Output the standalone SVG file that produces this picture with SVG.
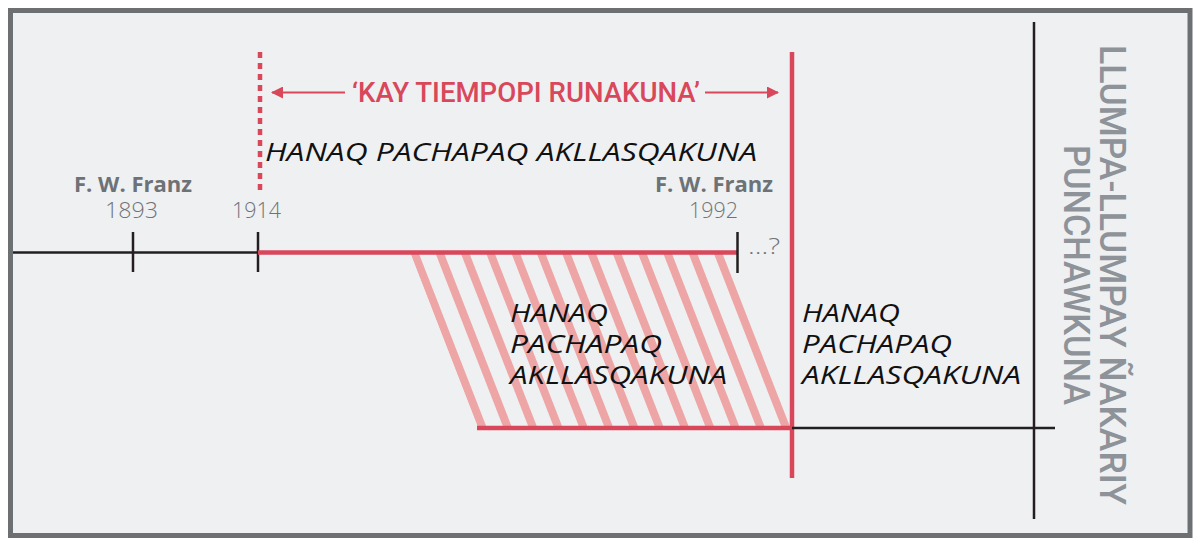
<svg xmlns="http://www.w3.org/2000/svg" width="1200" height="547" viewBox="0 0 1200 547">
  <style>
    .blk { stroke: #231f20; stroke-width: 2.5; fill: none; }
    .red { stroke: #d9475b; stroke-width: 4.5; fill: none; }
    .stripe { stroke: #eea5a5; stroke-width: 8; }
    .ital { font-family: "Open Sans", "DejaVu Sans", sans-serif; font-style: italic; font-weight: 500; font-size: 26px; fill: #111111; }
    .name { font-family: "Open Sans", "DejaVu Sans", sans-serif; font-weight: 700; font-size: 21px; fill: #6d7276; }
    .year { font-family: "Open Sans", "DejaVu Sans", sans-serif; font-weight: 300; font-size: 22px; fill: #6f7478; }
    .title { font-family: "Roboto", "Liberation Sans", sans-serif; font-weight: 500; font-size: 28px; fill: #d9475b; }
    .vert { font-family: "Roboto", "Liberation Sans", sans-serif; font-weight: 500; font-size: 36px; fill: #8e9399; }
  </style>
  <defs>
    <marker id="arr" viewBox="0 0 12 12" refX="11" refY="6" markerWidth="12" markerHeight="12" markerUnits="userSpaceOnUse" orient="auto-start-reverse">
      <path d="M0,0 L12,6 L0,12 Z" fill="#d9475b"/>
    </marker>
    <clipPath id="trap">
      <polygon points="410,252 737,252 792,428 478,428"/>
    </clipPath>
  </defs>

  <rect x="0" y="0" width="1200" height="547" fill="#ffffff"/>
  <rect id="frame" x="10.5" y="10.5" width="1179.5" height="525" fill="#eff0f2" stroke="#6d7072" stroke-width="5"/>

  <g id="hatch" clip-path="url(#trap)">
    <line class="stripe" x1="414" y1="252" x2="482.6" y2="428"/>
    <line class="stripe" x1="439.3" y1="252" x2="507.9" y2="428"/>
    <line class="stripe" x1="464.6" y1="252" x2="533.2" y2="428"/>
    <line class="stripe" x1="489.9" y1="252" x2="558.5" y2="428"/>
    <line class="stripe" x1="515.2" y1="252" x2="583.8" y2="428"/>
    <line class="stripe" x1="540.5" y1="252" x2="609.1" y2="428"/>
    <line class="stripe" x1="565.8" y1="252" x2="634.4" y2="428"/>
    <line class="stripe" x1="591.1" y1="252" x2="659.7" y2="428"/>
    <line class="stripe" x1="616.4" y1="252" x2="685" y2="428"/>
    <line class="stripe" x1="641.7" y1="252" x2="710.3" y2="428"/>
    <line class="stripe" x1="667" y1="252" x2="735.6" y2="428"/>
    <line class="stripe" x1="692.3" y1="252" x2="760.9" y2="428"/>
    <line class="stripe" x1="717.6" y1="252" x2="786.2" y2="428"/>
    <line class="stripe" x1="742.9" y1="252" x2="811.5" y2="428"/>
  </g>

  <g id="connectors">
    <line class="blk" x1="13" y1="252.5" x2="258" y2="252.5"/>
    <line class="blk" x1="133" y1="232" x2="133" y2="272"/>
    <line class="blk" x1="258" y1="232" x2="258" y2="272"/>
    <line class="red" x1="258" y1="252.5" x2="737" y2="252.5"/>
    <line class="blk" x1="737.5" y1="232" x2="737.5" y2="273"/>
    <line class="red" x1="260" y1="52" x2="260" y2="192" stroke-dasharray="6 5" stroke-width="4"/>
    <line class="red" x1="792" y1="52" x2="792" y2="478" stroke-width="4"/>
    <line class="red" x1="477" y1="428" x2="792" y2="428"/>
    <line class="blk" x1="792" y1="428" x2="1055" y2="428"/>
    <line class="blk" x1="1034" y1="22" x2="1034" y2="519"/>
    <line x1="345" y1="92.5" x2="272" y2="92.5" stroke="#d9475b" stroke-width="2" marker-end="url(#arr)"/>
    <line x1="705" y1="92.5" x2="778" y2="92.5" stroke="#d9475b" stroke-width="2" marker-end="url(#arr)"/>
  </g>

  <g id="title-node">
    <text class="title" x="352" y="102" textLength="348" lengthAdjust="spacingAndGlyphs">‘KAY TIEMPOPI RUNAKUNA’</text>
  </g>

  <g id="anointed-top">
    <text class="ital" x="265" y="161" font-size="28" textLength="492" lengthAdjust="spacingAndGlyphs">HANAQ PACHAPAQ AKLLASQAKUNA</text>
  </g>

  <g id="franz-1893">
    <text class="name" x="133" y="192" text-anchor="middle" textLength="118" lengthAdjust="spacingAndGlyphs">F. W. Franz</text>
    <text class="year" x="131.5" y="218" text-anchor="middle" textLength="53" lengthAdjust="spacingAndGlyphs">1893</text>
  </g>

  <g id="year-1914">
    <text class="year" x="256.5" y="218" text-anchor="middle" textLength="49" lengthAdjust="spacingAndGlyphs">1914</text>
  </g>

  <g id="franz-1992">
    <text class="name" x="714" y="192" text-anchor="middle" textLength="118" lengthAdjust="spacingAndGlyphs">F. W. Franz</text>
    <text class="year" x="713.5" y="218" text-anchor="middle" textLength="49" lengthAdjust="spacingAndGlyphs">1992</text>
  </g>

  <g id="unknown-end">
    <text class="year" x="748" y="254" textLength="32" lengthAdjust="spacingAndGlyphs">...?</text>
  </g>

  <g id="anointed-hatched">
    <text class="ital">
      <tspan x="510" y="322" textLength="98" lengthAdjust="spacingAndGlyphs">HANAQ</tspan>
      <tspan x="510" y="353" textLength="152" lengthAdjust="spacingAndGlyphs">PACHAPAQ</tspan>
      <tspan x="510" y="384" textLength="217" lengthAdjust="spacingAndGlyphs">AKLLASQAKUNA</tspan>
    </text>
  </g>

  <g id="anointed-right">
    <text class="ital">
      <tspan x="802" y="322" textLength="98" lengthAdjust="spacingAndGlyphs">HANAQ</tspan>
      <tspan x="802" y="353" textLength="150" lengthAdjust="spacingAndGlyphs">PACHAPAQ</tspan>
      <tspan x="802" y="384" textLength="219" lengthAdjust="spacingAndGlyphs">AKLLASQAKUNA</tspan>
    </text>
  </g>

  <g id="great-tribulation">
    <text class="vert" transform="translate(1100,45) rotate(90)" x="0" y="0" textLength="460" lengthAdjust="spacingAndGlyphs">LLUMPA-LLUMPAY ÑAKARIY</text>
    <text class="vert" transform="translate(1064,145) rotate(90)" x="0" y="0" textLength="260" lengthAdjust="spacingAndGlyphs">PUNCHAWKUNA</text>
  </g>
</svg>
